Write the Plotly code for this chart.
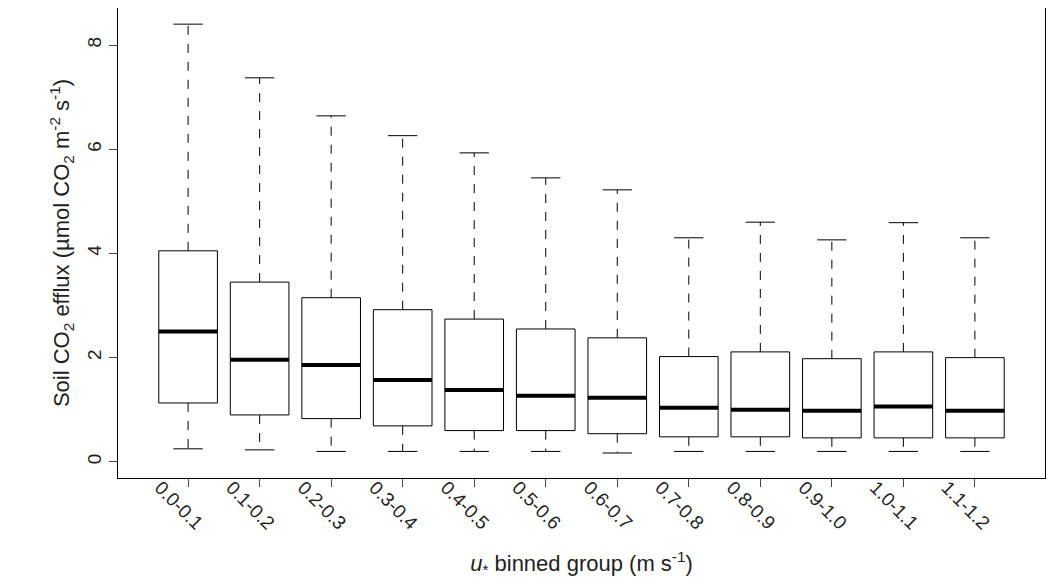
import plotly.graph_objects as go

groups = ["0.0-0.1", "0.1-0.2", "0.2-0.3", "0.3-0.4", "0.4-0.5", "0.5-0.6",
          "0.6-0.7", "0.7-0.8", "0.8-0.9", "0.9-1.0", "1.0-1.1", "1.1-1.2"]
lower = [0.25, 0.23, 0.20, 0.20, 0.20, 0.20, 0.17, 0.20, 0.20, 0.20, 0.20, 0.20]
q1 = [1.13, 0.90, 0.83, 0.69, 0.60, 0.60, 0.54, 0.48, 0.48, 0.46, 0.46, 0.46]
median = [2.50, 1.96, 1.86, 1.57, 1.38, 1.27, 1.23, 1.04, 1.00, 0.98, 1.06, 0.98]
q3 = [4.05, 3.45, 3.15, 2.92, 2.74, 2.55, 2.38, 2.02, 2.11, 1.98, 2.11, 2.00]
upper = [8.40, 7.37, 6.64, 6.26, 5.93, 5.45, 5.22, 4.30, 4.60, 4.26, 4.59, 4.30]

hw = 0.41   # half box width
cw = 0.205  # half cap width

bx, by, mx, my, wx, wy, cx, cy = [], [], [], [], [], [], [], []
for i in range(len(groups)):
    p = i + 1
    bx += [p - hw, p + hw, p + hw, p - hw, p - hw, None]
    by += [q1[i], q1[i], q3[i], q3[i], q1[i], None]
    mx += [p - hw, p + hw, None]
    my += [median[i], median[i], None]
    wx += [p, p, None, p, p, None]
    wy += [q3[i], upper[i], None, q1[i], lower[i], None]
    cx += [p - cw, p + cw, None, p - cw, p + cw, None]
    cy += [upper[i], upper[i], None, lower[i], lower[i], None]

fig = go.Figure()
fig.add_trace(go.Scatter(x=wx, y=wy, mode="lines", line=dict(color="black", width=1, dash="dash")))
fig.add_trace(go.Scatter(x=cx, y=cy, mode="lines", line=dict(color="black", width=1)))
fig.add_trace(go.Scatter(x=bx, y=by, mode="lines", line=dict(color="black", width=1)))
fig.add_trace(go.Scatter(x=mx, y=my, mode="lines", line=dict(color="black", width=4)))

font = dict(family="Liberation Sans, Arial", size=18, color="#222")
tickfont = dict(family="Liberation Sans, Arial", size=19, color="#222")
fig.update_layout(
    width=1054, height=588, showlegend=False,
    plot_bgcolor="white", paper_bgcolor="white",
    margin=dict(l=110, r=17, t=0, b=118),
    font=font,
    xaxis=dict(range=[0.02, 12.98], tickvals=list(range(1, 13)), ticktext=groups,
               tickangle=45, ticks="outside", ticklen=8, showgrid=False, zeroline=False,
               showline=True, mirror=True, linecolor="black", tickfont=tickfont,
               automargin=False, ticklabelshift=-28, ticklabelstandoff=-18,
               title=dict(text="<i>u</i><sub>*</sub> binned group (m s<sup>-1</sup>)", standoff=22)),
    yaxis=dict(range=[-0.31, 8.71], tickvals=[0, 2, 4, 6, 8], tickangle=-90,
               ticks="outside", ticklen=8, showgrid=False, zeroline=False,
               showline=True, mirror=True, linecolor="black", tickfont=tickfont,
               automargin=False,
               title=dict(text="Soil CO<sub>2</sub> efflux (µmol CO<sub>2</sub> m<sup>-2</sup> s<sup>-1</sup>)", standoff=8)),
)
fig.write_html("out.html")
